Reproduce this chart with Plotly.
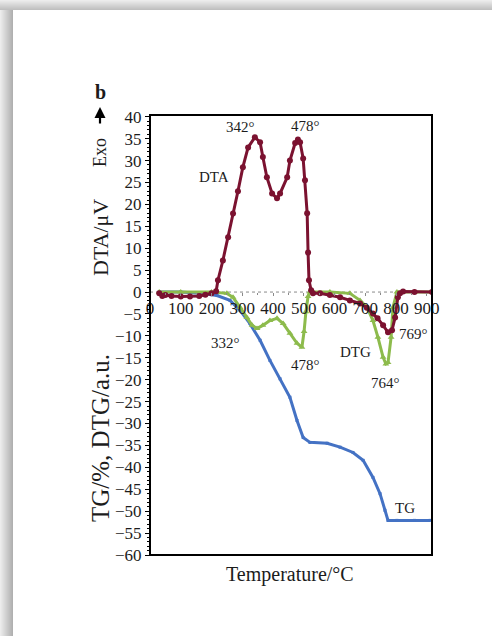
import plotly.graph_objects as go

# ---------------- data ----------------
dta_T = [30, 40, 50, 70, 100, 130, 160, 180, 200, 215, 221, 237, 254, 270, 286, 302, 319, 341,
         358, 367, 380, 397, 413, 423, 446, 455, 472, 481, 488, 498, 504, 511, 514, 517, 524, 530,
         553, 585, 618, 650, 683, 705, 725, 740, 758, 774, 787, 797, 806, 813, 823, 860, 917]
dta_v = [-0.3, -0.9, -0.7, -0.9, -1.0, -1.0, -0.9, -0.6, -0.3, 0.2, 2.7, 7.2, 12.5, 17.9, 23.0, 28.5, 33.0, 35.3,
         34.2, 30.8, 26.2, 22.5, 21.4, 22.5, 26.2, 30.0, 34.0, 34.8, 34.2, 30.5, 25.5, 18.0, 9.0, 2.7, 0.4, -0.3,
         -0.3, -0.7, -1.2, -1.9, -2.6, -3.6, -4.9, -6.0, -7.6, -9.2, -8.7, -5.8, -1.2, -0.3, 0.1, 0.0, 0.0]

dtg_T = [30, 100, 200, 250, 270, 293, 315, 332, 348, 367, 390, 413, 433, 455, 478, 494, 501, 507, 514, 520,
         585, 650, 683, 706, 725, 741, 758, 767, 774, 784, 790, 803, 860, 917]
dtg_v = [0.0, 0.0, 0.0, -0.3, -1.2, -3.5, -5.8, -7.6, -8.3, -7.6, -6.5, -6.0, -7.2, -9.4, -11.7, -12.6, -9.0, -4.5, -1.0, 0.0,
         0.0, -0.3, -1.9, -3.5, -6.5, -10.3, -14.9, -16.4, -16.1, -10.3, -3.5, 0.0, 0.0, 0.0]

tg_T = [30, 100, 163, 218, 260, 293, 325, 358, 390, 423, 455, 478, 498, 520, 576, 618, 660, 693, 725, 748,
        764, 774, 803, 860, 911]
tg_v = [0.0, 0.0, -0.3, -0.8, -1.9, -4.2, -7.2, -11.0, -15.6, -19.8, -24.0, -29.3, -33.2, -34.3, -34.5, -35.4,
        -36.6, -38.4, -42.3, -46.0, -49.8, -52.1, -52.1, -52.1, -52.1]

x_ticks = [0, 100, 200, 300, 400, 500, 600, 700, 800, 900]

# ---------------- layout helpers ----------------
W, H = 492, 636
L, R, T, B = 150, 60, 115, 81
PW, PH = W - L - R, H - T - B


def px(x):
    return (x - L) / PW


def py(y):
    return (H - B - y) / PH


SERIF = "Liberation Serif, Times New Roman, serif"
TXT = "#1c1c1c"
RED = "#7b1230"
GREEN = "#8dbb4c"
BLUE = "#4472c4"

fig = go.Figure()
fig.add_trace(go.Scatter(x=tg_T, y=tg_v, mode="lines+markers", line=dict(color=BLUE, width=3),
                         marker=dict(size=3, color=BLUE, symbol="square"), name="TG"))
fig.add_trace(go.Scatter(x=dtg_T, y=dtg_v, mode="lines+markers", line=dict(color=GREEN, width=3),
                         marker=dict(size=6, color=GREEN, symbol="triangle-up"), name="DTG"))
fig.add_trace(go.Scatter(x=dta_T, y=dta_v, mode="lines+markers", line=dict(color=RED, width=3),
                         marker=dict(size=6, color=RED, symbol="circle"), name="DTA"))

shapes = []
# card shadow (left and top)
for i in range(13):
    g = int(236 - i * 5)
    shapes.append(dict(type="rect", xref="paper", yref="paper", x0=px(i), x1=px(i + 1), y0=py(H), y1=py(10),
                       fillcolor=f"rgb({g},{g},{g})", line=dict(width=0), layer="below"))
for j in range(10):
    g = int(236 - j * 5)
    shapes.append(dict(type="rect", xref="paper", yref="paper", x0=px(0), x1=px(W), y0=py(j + 1), y1=py(j),
                       fillcolor=f"rgb({g},{g},{g})", line=dict(width=0), layer="below"))
# zero line (dotted)
shapes.append(dict(type="line", xref="paper", yref="y", x0=0, x1=1, y0=0, y1=0,
                   line=dict(color="#8a8a8a", width=1, dash="dot"), layer="below"))
# frame
shapes.append(dict(type="rect", xref="paper", yref="paper", x0=0, x1=1, y0=0, y1=1,
                   line=dict(color="black", width=2)))

ymin, ymax = -60, 40.4
ann = []


def add_text(text, x, y, size=15, angle=0, bold=False):
    ann.append(dict(text=f"<b>{text}</b>" if bold else text, x=px(x), y=py(y), xref="paper", yref="paper",
                    showarrow=False, textangle=angle, xanchor="center", yanchor="middle",
                    font=dict(family=SERIF, size=size, color=TXT)))


add_text("b", 100, 92, size=20, bold=True)
add_text("Exo", 100, 153, size=18, angle=-90)
add_text("DTA/μV", 100, 238, size=22, angle=-90)
add_text("TG/%, DTG/a.u.", 100, 438, size=25, angle=-90)
add_text("342°", 240, 127)
add_text("478°", 305, 126)
add_text("DTA", 214, 177)
add_text("332°", 225, 343)
add_text("478°", 305, 365)
add_text("DTG", 355, 352)
add_text("769°", 413, 334)
add_text("764°", 385, 383)
add_text("TG", 405, 508)
add_text("Temperature/°C", 290, 574, size=20)
# Exo arrow
ann.append(dict(x=px(100), y=py(107), ax=0, ay=18, xref="paper", yref="paper", showarrow=True,
                arrowhead=2, arrowsize=1, arrowwidth=2.2, arrowcolor="black", text=""))

fig.update_layout(
    width=W, height=H,
    margin=dict(l=L, r=R, t=T, b=B, pad=0),
    paper_bgcolor="white", plot_bgcolor="white",
    showlegend=False,
    shapes=shapes, annotations=ann,
    xaxis=dict(range=[0, 917], tickvals=x_ticks, ticktext=[str(v) for v in x_ticks],
               anchor="free", position=60 / (ymax - ymin), showline=False, showgrid=False, zeroline=False,
               ticks="outside", ticklen=3, tickcolor="#8a8a8a", tickwidth=1,
               minor=dict(dtick=50, ticks="outside", ticklen=2, tickcolor="#8a8a8a"),
               ticklabelstandoff=-2,
               tickfont=dict(family=SERIF, size=17, color=TXT)),
    yaxis=dict(range=[ymin, ymax], dtick=5, tick0=0, showgrid=False, zeroline=False, showline=False,
               ticks="outside", ticklen=4, tickcolor="black", tickwidth=1,
               minor=dict(dtick=1, ticks="outside", ticklen=2, tickcolor="black"),
               tickfont=dict(family=SERIF, size=17, color=TXT)),
)

fig.write_html("out.html", config={"displayModeBar": False},
               post_script="document.body.style.margin='0';document.body.style.overflow='hidden';")
